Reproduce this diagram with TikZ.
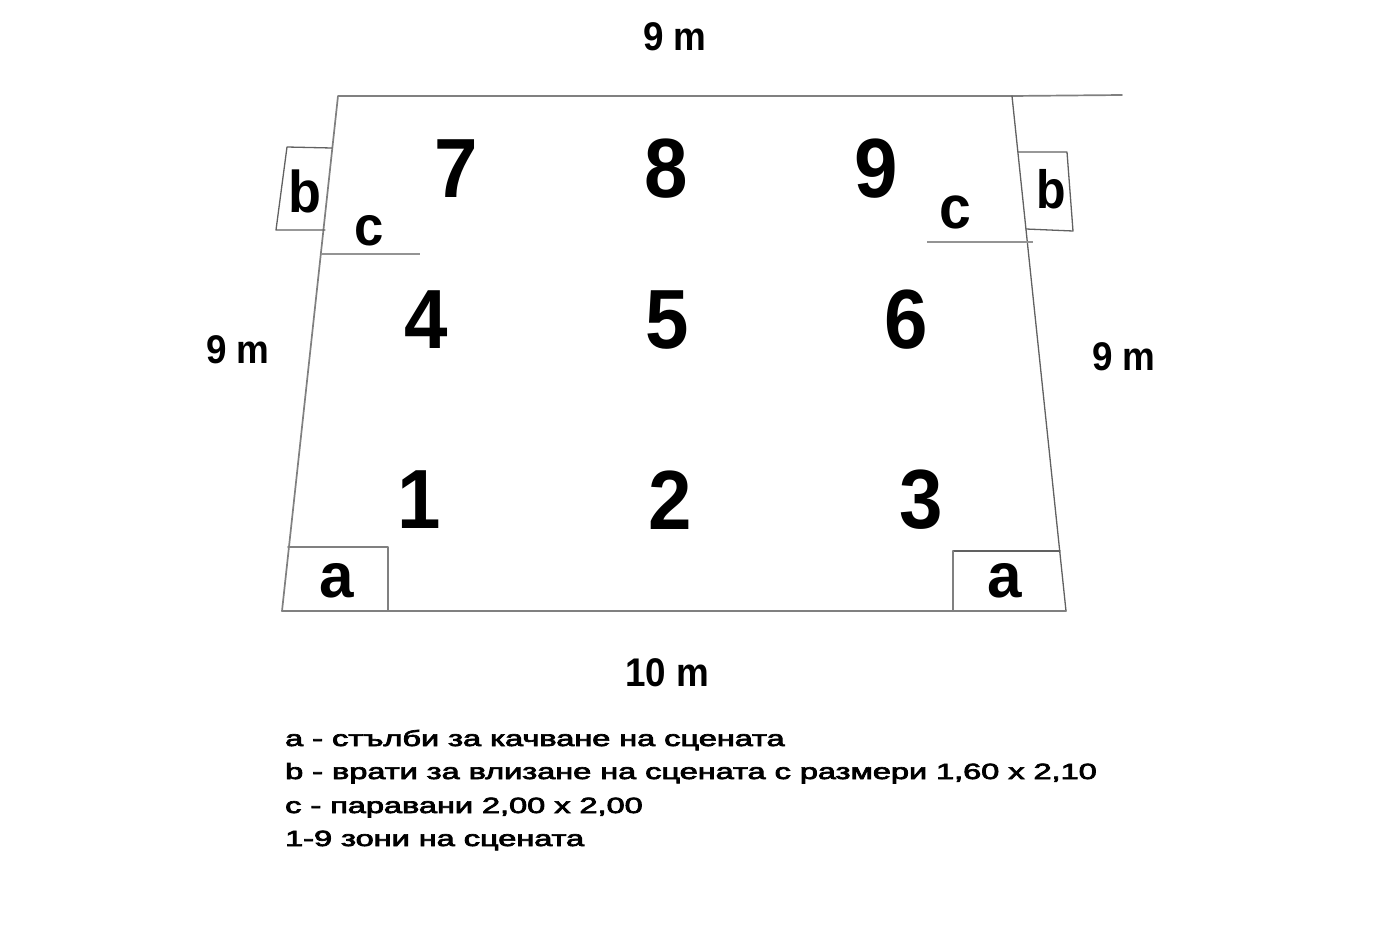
\documentclass[tikz,border=0pt]{standalone}
\usepackage{fontspec}
\setmainfont{Liberation Sans}
\newfontfamily\legfont[FakeBold=3]{Liberation Sans}
\newcommand{\zn}[1]{\scalebox{0.93}[1]{#1}}
\tikzset{
 wall/.style={draw=black!50,line width=1.7pt,line cap=round,line join=round},
 thin wall/.style={draw=black!62,line width=1.3pt,line cap=round,line join=round},
 screen/.style={draw=black!42,line width=2pt},
 zone/.style={font=\fontsize{84}{84}\selectfont\bfseries,inner sep=0pt,anchor=center},
 letter/.style={font=\fontsize{62}{62}\selectfont\bfseries,inner sep=0pt,anchor=base},
 dim/.style={font=\fontsize{40}{40}\selectfont\bfseries,inner sep=0pt,anchor=center},
 legend/.style={font=\fontsize{22}{22}\selectfont\legfont,inner sep=0pt,anchor=base west}
}
\begin{document}
\begin{tikzpicture}[x=1pt,y=-1pt]
\useasboundingbox[fill=white] (0,0) rectangle (1385,926);
% stage outline
\coordinate (tl) at (338,96);
\coordinate (tr) at (1012,96);
\coordinate (tx) at (1122,95);
\coordinate (bl) at (282,611);
\coordinate (br) at (1066,611);
\draw[wall] (bl) -- (tl) -- (tr) -- (tx);
\draw[thin wall] (tr) -- (br);
\draw[wall] (bl) -- (br);
% stairs
\coordinate (a1) at (288,547); \coordinate (a2) at (388,547); \coordinate (a3) at (388,611);
\draw[wall] (a1) -- (a2) -- (a3);
\coordinate (a4) at (1060,551); \coordinate (a5) at (953,551); \coordinate (a6) at (953,611);
\draw[thin wall] (a4) -- (a5);
\draw[wall] (a5) -- (a6);
% doors
\coordinate (b1) at (332,148); \coordinate (b2) at (287,147); \coordinate (b3) at (276,230); \coordinate (b4) at (325,230);
\draw[thin wall] (b1) -- (b2) -- (b3) -- (b4);
\coordinate (b5) at (1018,152); \coordinate (b6) at (1067,152); \coordinate (b7) at (1073,231); \coordinate (b8) at (1026,229);
\draw[thin wall] (b5) -- (b6) -- (b7) -- (b8);
% screens
\coordinate (c1) at (321,254); \coordinate (c2) at (420,254);
\draw[screen] (c1) -- (c2);
\coordinate (c3) at (927,242); \coordinate (c4) at (1033,242);
\draw[screen] (c3) -- (c4);
% zones
\node[zone] (z7) at (456,169) {\zn{7}};
\node[zone] (z8) at (666,169) {\zn{8}};
\node[zone] (z9) at (876,169) {\zn{9}};
\node[zone] (z4) at (426,320) {\zn{4}};
\node[zone] (z5) at (667,320) {\zn{5}};
\node[zone] (z6) at (906,320) {\zn{6}};
\node[zone] (z1) at (419,500) {\zn{1}};
\node[zone] (z2) at (670,500) {\zn{2}};
\node[zone] (z3) at (921,500) {\zn{3}};
% letters
\node[letter] (la) at (337,597) {\scalebox{1}[1.02]{a}};
\node[letter] (lb) at (1005,597) {\scalebox{1}[1.02]{a}};
\node[letter] (lc) at (304.5,212) {\scalebox{0.87}[0.95]{b}};
\node[letter] (ld) at (1051.5,208) {\scalebox{0.78}[0.87]{b}};
\node[letter] (le) at (369.5,245.5) {\scalebox{0.85}[0.9]{c}};
\node[letter] (lf) at (955.5,228) {\scalebox{0.92}[0.98]{c}};
% dimensions
\node[dim] (d1) at (675,37) {\scalebox{0.92}[1]{9 m}};
\node[dim] (d2) at (238,350) {\scalebox{0.92}[1]{9 m}};
\node[dim] (d3) at (1124,357) {\scalebox{0.92}[1]{9 m}};
\node[dim] (d4) at (667,673) {\scalebox{0.92}[1]{10 m}};
% legend
\node[legend] (l1) at (285,746) {\scalebox{1.476}[1]{a - стълби за качване на сцената}};
\node[legend] (l2) at (285,779) {\scalebox{1.476}[1]{b - врати за влизане на сцената с размери 1,60 х 2,10}};
\node[legend] (l3) at (285,813) {\scalebox{1.476}[1]{с - паравани 2,00 х 2,00}};
\node[legend] (l4) at (285,846) {\scalebox{1.476}[1]{1-9 зони на сцената}};
\end{tikzpicture}
\end{document}
